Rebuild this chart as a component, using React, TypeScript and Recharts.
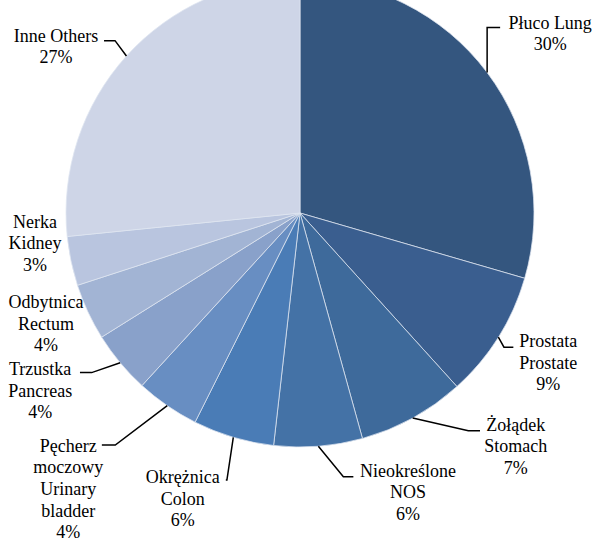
import React from 'react';
import { PieChart, Pie, Cell } from 'recharts';

// categories (line breaks as in the original labels)
const categories = [
  'Płuco Lung',
  'Prostata\nProstate',
  'Żołądek\nStomach',
  'Nieokreślone\nNOS',
  'Okrężnica\nColon',
  'Pęcherz\nmoczowy\nUrinary\nbladder',
  'Trzustka\nPancreas',
  'Odbytnica\nRectum',
  'Nerka\nKidney',
  'Inne Others',
];

// share of cases, %
const shares = [29.5, 8.8, 7.4, 6.1, 5.6, 4.4, 4.3, 3.9, 3.4, 26.6];

const sliceColors = [
  '#34567f', '#3a5e8f', '#3e6a9b', '#4472a6', '#4a7cb6',
  '#688ec2', '#89a1ca', '#a2b4d4', '#b9c5df', '#ced5e7',
];

// label placement, offsets from the point where the slice's mid angle meets the rim
const labelLayout: { text: [number, number]; line: [number, number][] | null }[] = [
  { text: [63, -44], line: [[0, -45], [13, -45]] },
  { text: [50, 10], line: [[5.6, 10], [15, 10]] },
  { text: [103, 12.6], line: [[55.6, 12.6], [67.3, 12.6]] },
  { text: [89.6, 30.4], line: [[25, 30.4], [35, 30.4]] },
  { text: [-50.6, 45.8], line: [[-6.4, 42.8], [-7.5, 42.8]] },
  { text: [-99, 46], line: [[-52, 39.4], [-65.4, 39.4]] },
  { text: [-80, 12.2], line: [[-28.5, 9.9], [-40.2, 9.9]] },
  { text: [-42, -4], line: null },
  { text: [-36, -33.3], line: null },
  { text: [-70.4, -14.4], line: [[-11.4, -15.4], [-22.4, -15.4]] },
];

const data = categories.map((name, i) => ({ name, value: shares[i] }));

const FONT = '"Liberation Serif", "Times New Roman", serif';
const RADIAN = Math.PI / 180;

const renderLabel = (props: any) => {
  const { cx, cy, midAngle, outerRadius, index, percent } = props;
  const ex = cx + outerRadius * Math.cos(-midAngle * RADIAN);
  const ey = cy + outerRadius * Math.sin(-midAngle * RADIAN);
  const lay = labelLayout[index];
  const lines = [...categories[index].split('\n'), `${Math.round(percent * 100)}%`];
  const tx = ex + lay.text[0];
  const ty = ey + lay.text[1];
  return (
    <g>
      {lay.line && (
        <polyline
          points={[[0, 0], ...lay.line].map(([dx, dy]) => `${ex + dx},${ey + dy}`).join(' ')}
          fill="none"
          stroke="#000"
          strokeWidth={1.5}
        />
      )}
      <text x={tx} y={ty} textAnchor="middle" fontFamily={FONT} fontSize={18} fill="#000">
        {lines.map((l, i) => (
          <tspan key={i} x={tx} dy={i === 0 ? 0 : 21.6}>{l}</tspan>
        ))}
      </text>
    </g>
  );
};

export default function App() {
  return (
    <div style={{ position: 'absolute', left: 0, top: 0, width: 595, height: 540, background: '#fff' }}>
      <PieChart width={595} height={540} margin={{ top: 0, right: 0, bottom: 0, left: 0 }}>
        <Pie
          data={data}
          dataKey="value"
          nameKey="name"
          cx={300}
          cy={213}
          outerRadius={234}
          startAngle={90}
          endAngle={-270}
          stroke="#dfe6f0"
          strokeWidth={0.75}
          label={renderLabel}
          labelLine={false}
          isAnimationActive={false}
        >
          {data.map((d, i) => (
            <Cell key={d.name} fill={sliceColors[i]} />
          ))}
        </Pie>
      </PieChart>
    </div>
  );
}
